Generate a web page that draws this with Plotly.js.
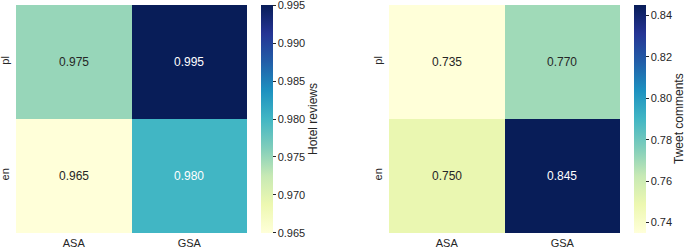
<!DOCTYPE html>
<html>
<head>
<meta charset="utf-8">
<script src="https://cdn.plot.ly/plotly-3.0.1.min.js"></script>
<style>html,body{margin:0;padding:0;background:#fff;}#chart{width:685px;height:248px;}</style>
</head>
<body>
<div id="chart"></div>
<script>
const methods = ['ASA', 'GSA'];
const languages = ['pl', 'en'];
const hotelValues = [[0.975, 0.995], [0.965, 0.980]];
const tweetValues = [[0.735, 0.770], [0.750, 0.845]];
const hotelTicks = [0.965, 0.970, 0.975, 0.980, 0.985, 0.990, 0.995];
const tweetTicks = [0.74, 0.76, 0.78, 0.80, 0.82, 0.84];
const hotelTitle = 'Hotel reviews';
const tweetTitle = 'Tweet comments';

const ylgnbu = [
  [0.0, '#ffffd9'], [0.125, '#edf8b1'], [0.25, '#c7e9b4'], [0.375, '#7fcdbb'],
  [0.5, '#41b6c4'], [0.625, '#1d91c0'], [0.75, '#225ea8'], [0.875, '#253494'], [1.0, '#081d58']
];
const FONT = 'Liberation Sans, Arial, sans-serif';
const DARK = '#262626';

function flat(a){ return [].concat(...a); }

function makeTrace(z, xa, ya, cbx, ticks, fmt){
  const zmin = Math.min(...flat(z)), zmax = Math.max(...flat(z));
  const eps = (zmax - zmin) * 1e-4;
  return {
    type: 'heatmap', x: methods, y: languages, z: z, xaxis: xa, yaxis: ya,
    colorscale: ylgnbu, zmin: zmin - eps, zmax: zmax + eps, hoverinfo: 'skip', xgap: 0, ygap: 0,
    colorbar: {
      x: cbx, xanchor: 'left', xpad: 0, ypad: 0, y: 0.5, yanchor: 'middle', len: 1, lenmode: 'fraction',
      thickness: 12, outlinewidth: 0, ticks: 'outside', ticklen: 3, tickwidth: 1, tickcolor: DARK,
      tickmode: 'array', tickvals: ticks, ticktext: ticks.map(v => v.toFixed(fmt)),
      ticklabeloverflow: 'allow',
      tickfont: {family: FONT, size: 11, color: DARK}
    }
  };
}

function makeAnnots(z, xa, ya){
  const zmin = Math.min(...flat(z)), zmax = Math.max(...flat(z));
  const out = [];
  languages.forEach((lang, i) => {
    methods.forEach((m, j) => {
      const v = z[i][j];
      const t = (v - zmin) / (zmax - zmin);
      out.push({
        x: m, y: lang, xref: xa, yref: ya, text: v.toFixed(3), showarrow: false,
        font: {family: FONT, size: 12, color: t > 0.45 ? '#ffffff' : DARK}
      });
    });
  });
  return out;
}

const data = [
  makeTrace(hotelValues, 'x', 'y', 261/685, hotelTicks, 3),
  makeTrace(tweetValues, 'x2', 'y2', 634/685, tweetTicks, 2)
];

const axisX = (dom) => ({domain: dom, showgrid: false, zeroline: false, showline: false, ticks: '',
  ticklabelstandoff: 2, tickfont: {family: FONT, size: 11, color: DARK}, fixedrange: true});
const axisY = (anchor) => ({domain: [0, 1], anchor: anchor, showgrid: false, zeroline: false, showline: false, ticks: '',
  ticklabelstandoff: 4, autorange: 'reversed', tickangle: -90, tickfont: {family: FONT, size: 11, color: DARK}, fixedrange: true});

const layout = {
  width: 685, height: 248,
  margin: {l: 0, r: 0, t: 5, b: 15},
  paper_bgcolor: '#ffffff', plot_bgcolor: '#ffffff',
  font: {family: FONT, color: DARK},
  xaxis: Object.assign(axisX([16/685, 247/685]), {anchor: 'y'}),
  yaxis: axisY('x'),
  xaxis2: Object.assign(axisX([389/685, 620/685]), {anchor: 'y2'}),
  yaxis2: axisY('x2'),
  annotations: makeAnnots(hotelValues, 'x', 'y').concat(makeAnnots(tweetValues, 'x2', 'y2')).concat([
    {text: hotelTitle, xref: 'paper', yref: 'paper', x: 313/685, y: 0.5, textangle: -90, showarrow: false,
     xanchor: 'center', yanchor: 'middle', font: {family: FONT, size: 12, color: DARK}},
    {text: tweetTitle, xref: 'paper', yref: 'paper', x: 679/685, y: 0.5, textangle: -90, showarrow: false,
     xanchor: 'center', yanchor: 'middle', font: {family: FONT, size: 12, color: DARK}}
  ]),
  showlegend: false
};

Plotly.newPlot('chart', data, layout, {staticPlot: true, displayModeBar: false});
</script>
</body>
</html>
